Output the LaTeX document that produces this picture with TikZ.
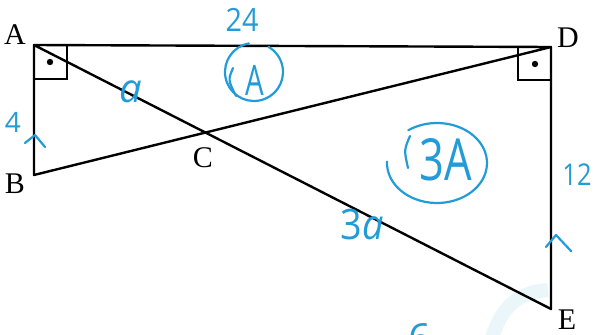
\documentclass[tikz,border=0pt]{standalone}
\usepackage{fontspec}
\setmainfont{Liberation Serif}
\newfontfamily\handfont{Open Sans}
\usetikzlibrary{calc}
\definecolor{pen}{RGB}{35,155,215}
\begin{document}
\begin{tikzpicture}[x=1pt,y=-1pt,
  edge/.style={line width=2.4pt,line join=round},
  vlabel/.style={font=\fontsize{30}{30}\selectfont},
  hand/.style={text=pen,font=\handfont\fontsize{#1}{#1}\selectfont},
  stroke/.style={draw=pen,line width=2.2pt,line cap=round,line join=round}]
  \useasboundingbox (0,0) rectangle (595,335);
  \clip (0,0) rectangle (595,335);

  % Punkte
  \coordinate (A) at (34,45);
  \coordinate (B) at (34,175);
  \coordinate (D) at (551,47);
  \coordinate (E) at (551,309);
  \coordinate (C) at (intersection of A--E and B--D);

  % Wasserzeichen
  \draw[pen!9,line width=14pt] (490,345) .. controls (500,305) and (520,292) .. (548,290);

  % Dreiecke
  \draw[edge] (D) -- (A) -- (B) -- (D) -- (E) -- (A);

  % rechte Winkel
  \draw[line width=1.8pt] (A) rectangle ++(33,34);
  \fill ($(A)+(16,17)$) circle (3.2);
  \draw[line width=1.8pt] (D) rectangle ++(-33,33);
  \fill ($(D)+(-16,17)$) circle (3.2);

  % Beschriftung
  \node[vlabel] (labA) at (15,35) {A};
  \node[vlabel] (labB) at (15,184) {B};
  \node[vlabel] (labC) at (203,158) {C};
  \node[vlabel] (labD) at (568,38) {D};
  \node[vlabel] (labE) at (567,320) {E};

  % Notizen
  \node[hand=32] (len24) at (242,20) {\scalebox{0.9}[1]{24}};
  \node[hand=40] (lena) at (131,92) {\itshape a};
  \node[hand=28] (len4) at (13,122) {4};
  \node[hand=30] (len12) at (577,175) {\scalebox{0.85}[1]{12}};
  \node[hand=42] (len3a) at (362,224) {\scalebox{0.9}[1]{3\itshape a}};
  \node[hand=40] (len6) at (420,338) {6};

  % Flaechen
  \node[hand=42] (areaA) at (255,80) {\scalebox{0.7}[1]{A}};
  \draw[stroke] (254,72) ++(-100:29 and 29) arc[start angle=-100,end angle=-420,x radius=29,y radius=29];
  \draw[stroke] (233,68) .. controls (228,80) .. (236,96);
  \node[hand=58] (area3A) at (446,160) {\scalebox{0.75}[1]{3A}};
  \draw[stroke] (437,163) ++(-178:50 and 40) arc[start angle=-178,end angle=-485,x radius=50,y radius=40];
  \draw[stroke] (410,136) .. controls (404,150) .. (408,168);

  % Markierungen
  \draw[stroke] (25,143) -- (35,135) -- (45,147);
  \draw[stroke] (546,247) -- (556,235) -- (571,251);
\end{tikzpicture}
\end{document}
